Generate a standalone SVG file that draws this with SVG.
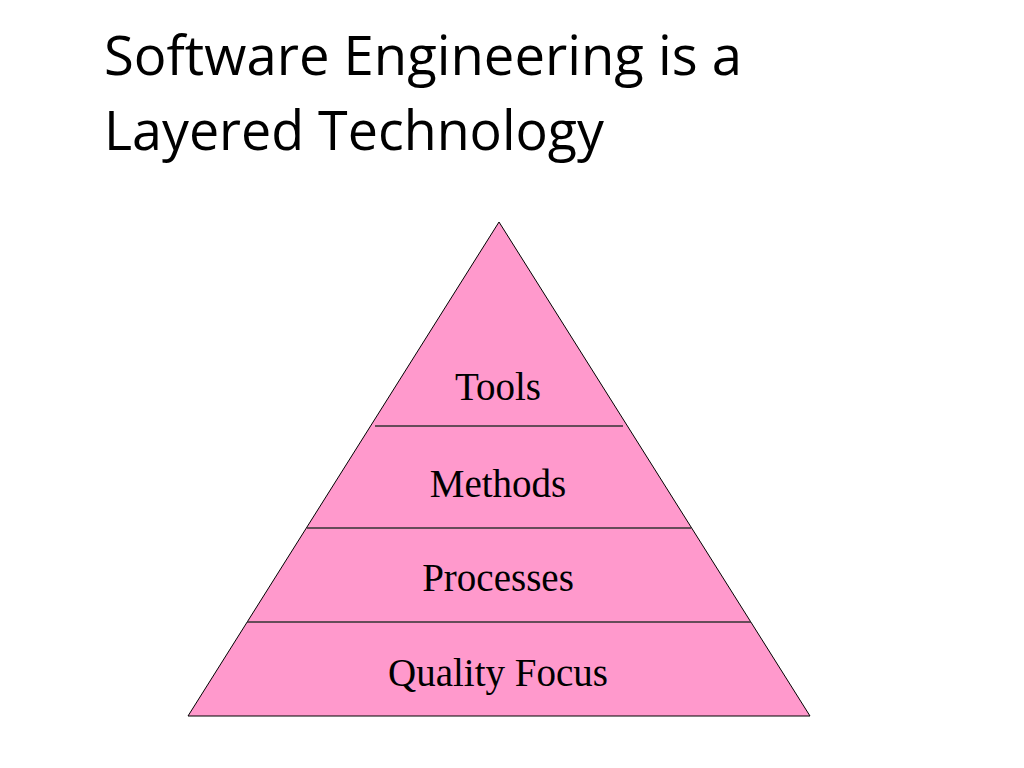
<svg xmlns="http://www.w3.org/2000/svg" width="1024" height="768" viewBox="0 0 1024 768">
<style>
.title{font-family:"Open Sans","Liberation Sans",sans-serif;font-size:55px;fill:#000}
.lbl{font-family:"Liberation Serif","Times New Roman",serif;font-size:39px;fill:#000;text-anchor:middle}
.sep{stroke:#333;stroke-width:1.3;fill:none}
</style>
<rect width="1024" height="768" fill="#fff"/>
<g id="title">
<text class="title" x="104" y="75" textLength="638" lengthAdjust="spacingAndGlyphs">Software Engineering is a</text>
<text class="title" x="104" y="150" textLength="500" lengthAdjust="spacingAndGlyphs">Layered Technology</text>
</g>
<g id="pyramid">
<polygon points="499,222 810,716 188,716" fill="#FF99CC" stroke="#000" stroke-width="1"/>
</g>
<g id="connectors">
<line class="sep" x1="375" y1="426" x2="623" y2="426"/>
<line class="sep" x1="307" y1="528" x2="691" y2="528"/>
<line class="sep" x1="247" y1="622" x2="751" y2="622"/>
</g>
<g id="tools"><text class="lbl" x="498" y="400">Tools</text></g>
<g id="methods"><text class="lbl" x="498" y="497">Methods</text></g>
<g id="processes"><text class="lbl" x="498" y="591">Processes</text></g>
<g id="quality"><text class="lbl" x="498" y="686">Quality Focus</text></g>
</svg>
